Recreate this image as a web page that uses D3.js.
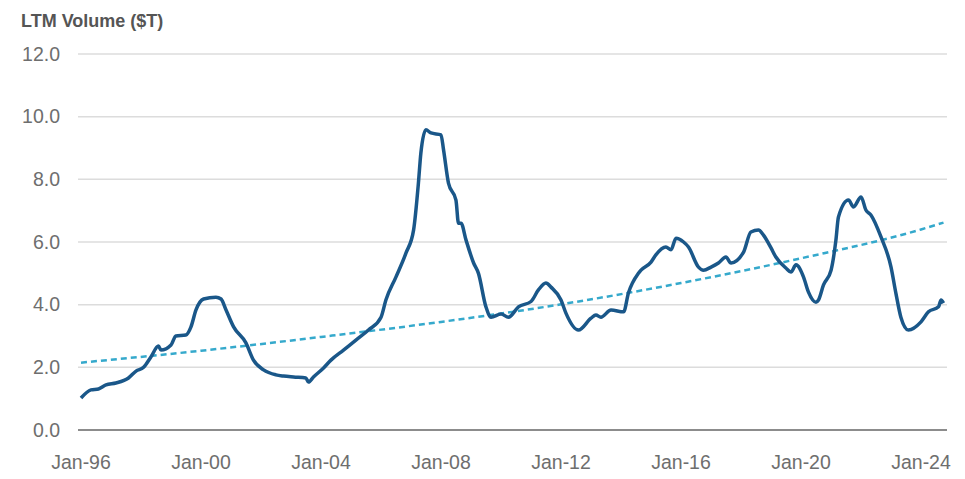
<!DOCTYPE html>
<html lang='en'>
<head>
<meta charset='utf-8'/>
<title>LTM Volume</title>
<script src='https://d3js.org/d3.v7.min.js'></script>
<style>
  body { margin: 0; background: #ffffff; }
  svg { display: block; font-family: 'Liberation Sans', Arial, sans-serif; }
  .grid line { stroke: #dcdcdc; stroke-width: 1.5; }
  .tick-label { fill: #6e6e6e; font-size: 19.5px; }
</style>
</head>
<body>
<script>
'use strict'
// LTM volume, $T (month, value)
const dates = [
  '1996-01','1996-05','1996-08','1996-11','1997-03','1997-08','1997-11','1998-02','1998-05','1998-08',
  '1998-09','1999-01','1999-03','1999-07','1999-09','1999-11','2000-02','2000-07','2000-09','2000-11',
  '2001-02','2001-07','2001-10','2002-02','2002-07','2002-10','2003-02','2003-07','2003-08','2003-10',
  '2004-02','2004-05','2004-10','2005-03','2005-08','2006-01','2006-03','2006-07','2006-11','2007-02',
  '2007-04','2007-05','2007-07','2007-09','2008-01','2008-02','2008-04','2008-07','2008-08','2008-09',
  '2008-11','2009-02','2009-04','2009-07','2009-09','2010-01','2010-04','2010-08','2011-01','2011-04',
  '2011-07','2011-09','2012-01','2012-03','2012-08','2013-01','2013-03','2013-05','2013-09','2014-02',
  '2014-04','2014-08','2014-09','2015-01','2015-03','2015-07','2015-09','2015-11','2016-02','2016-04',
  '2016-08','2016-10','2017-01','2017-04','2017-07','2017-09','2018-02','2018-05','2018-08','2018-10',
  '2019-01','2019-03','2019-07','2019-09','2019-11','2020-02','2020-04','2020-07','2020-08','2020-10',
  '2021-01','2021-03','2021-04','2021-08','2021-10','2022-01','2022-03','2022-05','2022-09','2023-01',
  '2023-03','2023-05','2023-08','2024-01','2024-04','2024-08','2024-09','2024-10'
]
const volume = [
  1.02,1.28,1.31,1.44,1.50,1.66,1.88,2.00,2.33,2.68,
  2.55,2.71,3.00,3.03,3.29,3.83,4.18,4.24,4.18,3.83,
  3.29,2.78,2.23,1.92,1.76,1.72,1.69,1.66,1.53,1.69,
  1.98,2.23,2.55,2.87,3.19,3.60,4.15,4.88,5.65,6.38,
  7.88,8.84,9.58,9.48,9.42,8.94,7.88,7.34,6.60,6.60,
  6.06,5.33,5.00,3.93,3.60,3.70,3.60,3.93,4.10,4.47,
  4.69,4.56,4.15,3.73,3.19,3.57,3.67,3.60,3.83,3.77,
  4.37,5.00,5.10,5.36,5.59,5.84,5.75,6.12,6.00,5.84,
  5.20,5.10,5.20,5.33,5.52,5.33,5.68,6.32,6.38,6.22,
  5.81,5.52,5.17,5.04,5.27,4.88,4.40,4.08,4.15,4.63,
  5.10,6.06,6.80,7.34,7.12,7.44,7.02,6.86,6.16,5.20,
  4.37,3.60,3.19,3.45,3.77,3.93,4.15,4.05
]
// dashed trend line
const trendDates = ['1996-01','2000-01','2004-01','2008-01','2012-01','2016-01','2020-01','2024-01','2024-10']
const trendValues = [2.15, 2.53, 2.97, 3.45, 4.01, 4.69, 5.48, 6.40, 6.62]

const yTicks = [0, 2, 4, 6, 8, 10, 12]
const xTickDates = ['1996-01','2000-01','2004-01','2008-01','2012-01','2016-01','2020-01','2024-01']
const xTickLabels = ['Jan-96','Jan-00','Jan-04','Jan-08','Jan-12','Jan-16','Jan-20','Jan-24']

const width = 965, height = 479
const plot = {left: 78, right: 947, top: 54, bottom: 430}
const parse = d3.timeParse('%Y-%m')

const x = d3.scaleTime()
  .domain([parse('1996-01'), parse('2024-01')])
  .range([81, 921])
const y = d3.scaleLinear()
  .domain([0, 12])
  .range([plot.bottom, plot.top])

const svg = d3.select('body').append('svg')
  .attr('width', width)
  .attr('height', height)

svg.append('rect').attr('width', width).attr('height', height).attr('fill', '#ffffff')

// title
svg.append('text')
  .attr('x', 21).attr('y', 27)
  .attr('fill', '#555555')
  .attr('font-size', '18px')
  .attr('font-weight', 'bold')
  .text('LTM Volume ($T)')

// gridlines
svg.append('g').attr('class', 'grid')
  .selectAll('line')
  .data(yTicks.filter(d => d > 0))
  .join('line')
  .attr('x1', plot.left).attr('x2', plot.right)
  .attr('y1', d => y(d)).attr('y2', d => y(d))

// zero axis line
svg.append('line')
  .attr('x1', plot.left).attr('x2', plot.right)
  .attr('y1', y(0)).attr('y2', y(0))
  .attr('stroke', '#8c8c8c').attr('stroke-width', 2)

// y labels
svg.append('g')
  .selectAll('text')
  .data(yTicks)
  .join('text')
  .attr('class', 'tick-label')
  .attr('x', 60)
  .attr('y', d => y(d))
  .attr('dy', '0.35em')
  .attr('text-anchor', 'end')
  .text(d => d3.format('.1f')(d))

// x labels
svg.append('g')
  .selectAll('text')
  .data(xTickDates)
  .join('text')
  .attr('class', 'tick-label')
  .attr('x', d => x(parse(d)))
  .attr('y', 462)
  .attr('dy', '0.35em')
  .attr('text-anchor', 'middle')
  .text((d, i) => xTickLabels[i])

const line = d3.line()
  .x(d => x(d.date))
  .y(d => y(d.value))

const trend = trendDates.map((d, i) => ({date: parse(d), value: trendValues[i]}))
svg.append('path')
  .attr('d', line.curve(d3.curveMonotoneX)(trend))
  .attr('fill', 'none')
  .attr('stroke', '#35a9cc')
  .attr('stroke-width', 2.5)
  .attr('stroke-dasharray', '6,4')

const series = dates.map((d, i) => ({date: parse(d), value: volume[i]}))
svg.append('path')
  .attr('d', line.curve(d3.curveMonotoneX)(series))
  .attr('fill', 'none')
  .attr('stroke', '#1a5789')
  .attr('stroke-width', 3.5)
  .attr('stroke-linejoin', 'round')
</script>
</body>
</html>
